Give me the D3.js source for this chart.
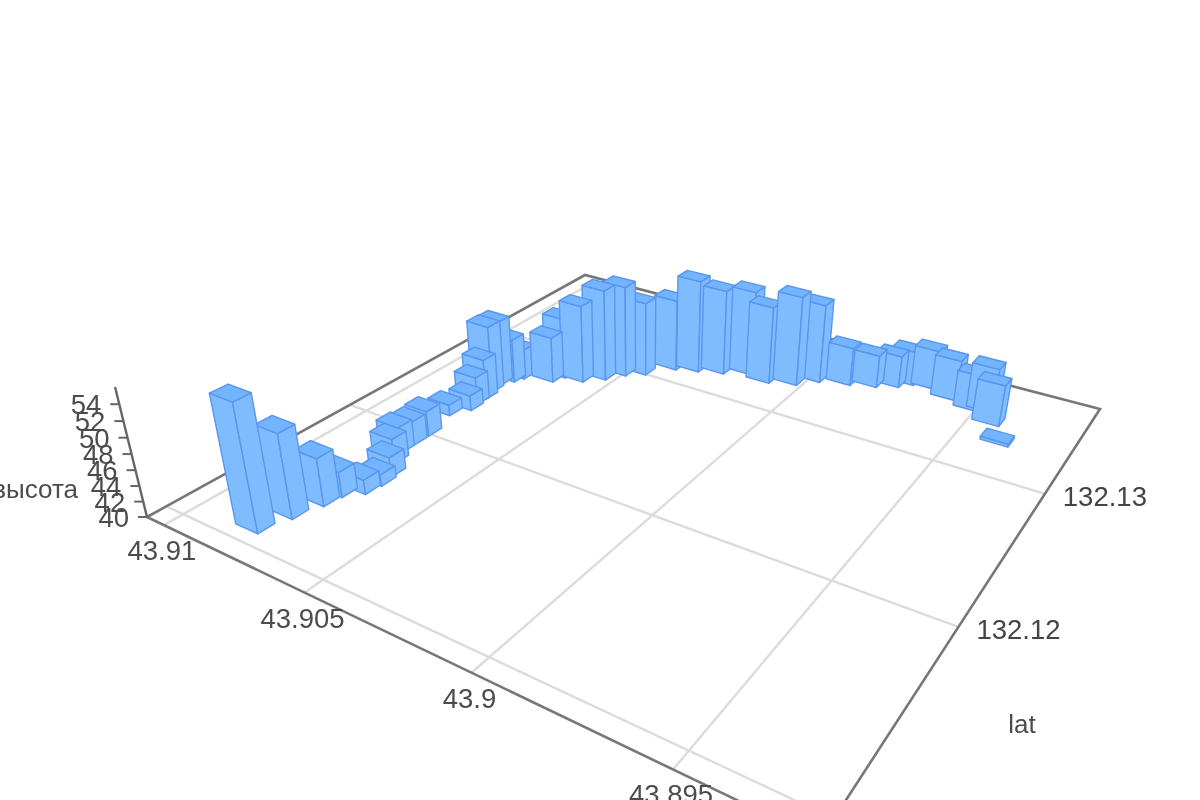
<!DOCTYPE html>
<html><head><meta charset="utf-8">
<script src="https://cdnjs.cloudflare.com/ajax/libs/d3/7.8.5/d3.min.js"></script>
<style>html,body{margin:0;padding:0;background:#fff;overflow:hidden}svg{display:block;filter:blur(0.6px)}text{font-family:"Liberation Sans",Arial,sans-serif}</style>
</head><body><svg id="c" width="1200" height="800"></svg>
<script>
const lonValues=[43.90814,43.90790,43.90767,43.90759,43.90719,43.90712,43.90722,43.90762,43.90786,43.90786,43.90786,43.90815,43.90783,43.90792,43.90791,43.90804,43.90811,43.90790,43.90777,43.90691,43.90674,43.90613,43.90563,43.90526,43.90478,43.90417,43.90351,43.90278,43.90200,43.90130,43.90053,43.90002,43.89915,43.89842,43.89785,43.89752,43.89684,43.89607,43.89525,43.89490,43.89449,43.89390];
const latValues=[132.11110,132.11249,132.11381,132.11467,132.11535,132.11615,132.11689,132.11773,132.11849,132.11930,132.12025,132.12215,132.12304,132.12364,132.12424,132.12494,132.12573,132.12632,132.12683,132.12732,132.12800,132.12810,132.12886,132.12974,132.13036,132.13161,132.13202,132.13250,132.13315,132.13285,132.13337,132.13425,132.13476,132.13525,132.13582,132.13641,132.13659,132.13604,132.13559,132.13583,132.13478,132.13325];
const heightValues=[56,50.8,46.2,43.3,41.9,41.5,42.6,43.3,43.5,43.2,43.4,41.5,42.1,43.8,45.6,49.3,49,46.1,44.2,46.4,48.5,50.9,52.8,52.8,50.4,50.1,53.1,52,52,50.9,52.6,51.1,45.4,44.6,44.5,44.8,45.5,45.7,45,46.2,45.7,40.4];
const lonTicks=[43.91,43.905,43.9,43.895];
const latTicks=[132.12,132.13];
const latGrid=[132.11,132.12,132.13];
const heightTicks=[40,42,44,46,48,50,52,54];
const heightAxisName="высота", latAxisName="lat";

const A=[147,517],B=[585,275],C=[1100,409],D=[820,840],VP=[640,2521];
const dx1=D[0]-C[0],dx2=B[0]-C[0],sx=A[0]-D[0]+C[0]-B[0];
const dy1=D[1]-C[1],dy2=B[1]-C[1],sy=A[1]-D[1]+C[1]-B[1];
const den=dx1*dy2-dx2*dy1,g=(sx*dy2-dx2*sy)/den,h=(dx1*sy-sx*dy1)/den;
const a=D[0]-A[0]+g*D[0],b=B[0]-A[0]+h*B[0],d=D[1]-A[1]+g*D[1],e=B[1]-A[1]+h*B[1];
const uScale=d3.scaleLinear().domain([43.91066,43.89191]).range([0,1]);
const vScale=d3.scaleLinear().domain([132.1091,132.1385]).range([0,1]);
const zScale=d3.scaleLinear().domain([40,56]).range([0,-0.0609]);
const w=(u,v)=>g*u+h*v+1;
function proj(u,v,z){const t=zScale(z),W=w(u,v)+t;
  return [(a*u+b*v+A[0]+t*VP[0])/W,(d*u+e*v+A[1]+t*VP[1])/W];}
const svg=d3.select("#c");
const line=d3.line();
const polyline=(pts,col,wd)=>svg.append("path").attr("d",line(pts)).attr("fill","none").attr("stroke",col).attr("stroke-width",wd);
const axisCol="#777",gridCol="#dcdcdc",textCol="#4c4c4c";
lonTicks.forEach(t=>polyline([proj(uScale(t),0,40),proj(uScale(t),1,40)],gridCol,2.4));
latGrid.forEach(t=>polyline([proj(0,vScale(t),40),proj(1,vScale(t),40)],gridCol,2.4));
polyline([proj(0,0,40),proj(0,1,40),proj(1,1,40),proj(1,0,40),proj(0,0,40)],axisCol,2.6);
polyline([proj(0,0,40),proj(0,0,56)],"#666",2.4);
heightTicks.forEach(t=>{const p=proj(0,0,t);
  polyline([p,[p[0]-9,p[1]]],"#666",2);
  svg.append("text").attr("x",p[0]-18).attr("y",p[1]+10).attr("text-anchor","end").attr("font-size",27.5).attr("fill",textCol).text(t);
});
svg.append("text").attr("x",78).attr("y",498).attr("text-anchor","end").attr("font-size",26).attr("fill",textCol).text(heightAxisName);
lonTicks.forEach(t=>{const p=proj(uScale(t),0,40);
  svg.append("text").attr("x",p[0]-2).attr("y",p[1]+35).attr("text-anchor","middle").attr("font-size",27.5).attr("fill",textCol).text(t);
});
latTicks.forEach(t=>{const p=proj(1,vScale(t),40);
  svg.append("text").attr("x",p[0]+60).attr("y",p[1]+12).attr("text-anchor","middle").attr("font-size",27.5).attr("fill","#444").text(t);
});
svg.append("text").attr("x",1022).attr("y",733).attr("text-anchor","middle").attr("font-size",26).attr("fill",textCol).text(latAxisName);
const du=0.0215,dv=0.0145;
const order=d3.range(lonValues.length).sort((i,j)=>w(uScale(lonValues[j]),vScale(latValues[j]))-w(uScale(lonValues[i]),vScale(latValues[i])));
const faceCol="#7fbcff",topCol="#72b4fe",edge="#5a95ef";
order.forEach(i=>{
  const u=uScale(lonValues[i]),v=vScale(latValues[i]),z=heightValues[i];
  const f=(su,sv,zz)=>proj(u+su*du,v+sv*dv,zz);
  const faces=[
    [[f(-1,-1,40),f(1,-1,40),f(1,-1,z),f(-1,-1,z)],faceCol],
    [[f(1,-1,40),f(1,1,40),f(1,1,z),f(1,-1,z)],faceCol],
    [[f(-1,-1,z),f(1,-1,z),f(1,1,z),f(-1,1,z)],topCol]];
  faces.forEach(([pts,col])=>svg.append("path").attr("d",line(pts)+"Z").attr("fill",col).attr("stroke",edge).attr("stroke-width",1.4).attr("stroke-linejoin","round"));
});
</script></body></html>
